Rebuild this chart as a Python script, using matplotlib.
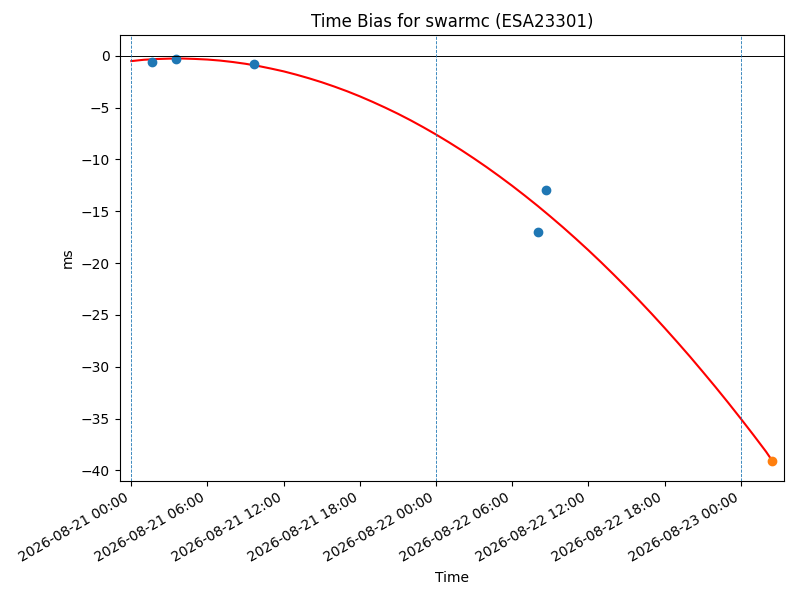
import matplotlib
matplotlib.use("Agg")
import matplotlib.pyplot as plt
import matplotlib.dates as mdates
import pandas as pd

# measured time bias (ms)
meas_times = ["2026-08-21 01:39", "2026-08-21 03:33", "2026-08-21 09:41",
              "2026-08-22 08:03", "2026-08-22 08:41"]
meas_bias = [-0.61, -0.29, -0.77, -17.03, -12.98]

# predicted point
pred_time = ["2026-08-23 02:28"]
pred_bias = [-39.1]

# fitted curve, read every hour from 2026-08-21 00:00
fit_start = "2026-08-21 00:00"
fit_hours = list(range(0, 51)) + [50.47]
fit_bias = [-0.52, -0.39, -0.32, -0.28, -0.27, -0.31, -0.37, -0.47, -0.61,
            -0.78, -0.99, -1.24, -1.51, -1.83, -2.18, -2.56, -2.98, -3.43,
            -3.92, -4.45, -5.01, -5.60, -6.23, -6.90, -7.60, -8.34, -9.11,
            -9.92, -10.76, -11.64, -12.55, -13.50, -14.48, -15.50, -16.55,
            -17.64, -18.76, -19.92, -21.12, -22.35, -23.61, -24.91, -26.25,
            -27.62, -29.02, -30.47, -31.94, -33.45, -35.00, -36.58, -38.20,
            -39.05]

day_marks = ["2026-08-21", "2026-08-22", "2026-08-23"]

#%%
fig, ax = plt.subplots(figsize=(8, 6), dpi=100)
fig.subplots_adjust(left=0.1494, right=0.9806, top=0.9417, bottom=0.1983)

fit_t = pd.Timestamp(fit_start) + pd.to_timedelta(fit_hours, unit="h")
ax.plot(fit_t, fit_bias, color="red", linewidth=1.5)
ax.plot(pd.to_datetime(meas_times), meas_bias, "o", color="C0")
ax.plot(pd.to_datetime(pred_time), pred_bias, "o", color="C1")

ax.axhline(0, color="black", linewidth=0.7)
for d in day_marks:
    ax.axvline(pd.Timestamp(d), color="C0", linestyle="--", linewidth=0.6)

ax.set_xlim(pd.Timestamp(fit_start) - pd.Timedelta(hours=0.93),
            pd.Timestamp(fit_start) + pd.Timedelta(hours=51.45))
ax.set_ylim(-41.03, 2.0)

ax.xaxis.set_major_locator(mdates.HourLocator(byhour=[0, 6, 12, 18]))
ax.xaxis.set_major_formatter(mdates.DateFormatter("%Y-%m-%d %H:%M"))
for lbl in ax.get_xticklabels():
    lbl.set_rotation(30)
    lbl.set_ha("right")

ax.set_title("Time Bias for swarmc (ESA23301)")
ax.set_xlabel("Time")
ax.set_ylabel("ms")

fig.savefig("out.png", dpi=100)
